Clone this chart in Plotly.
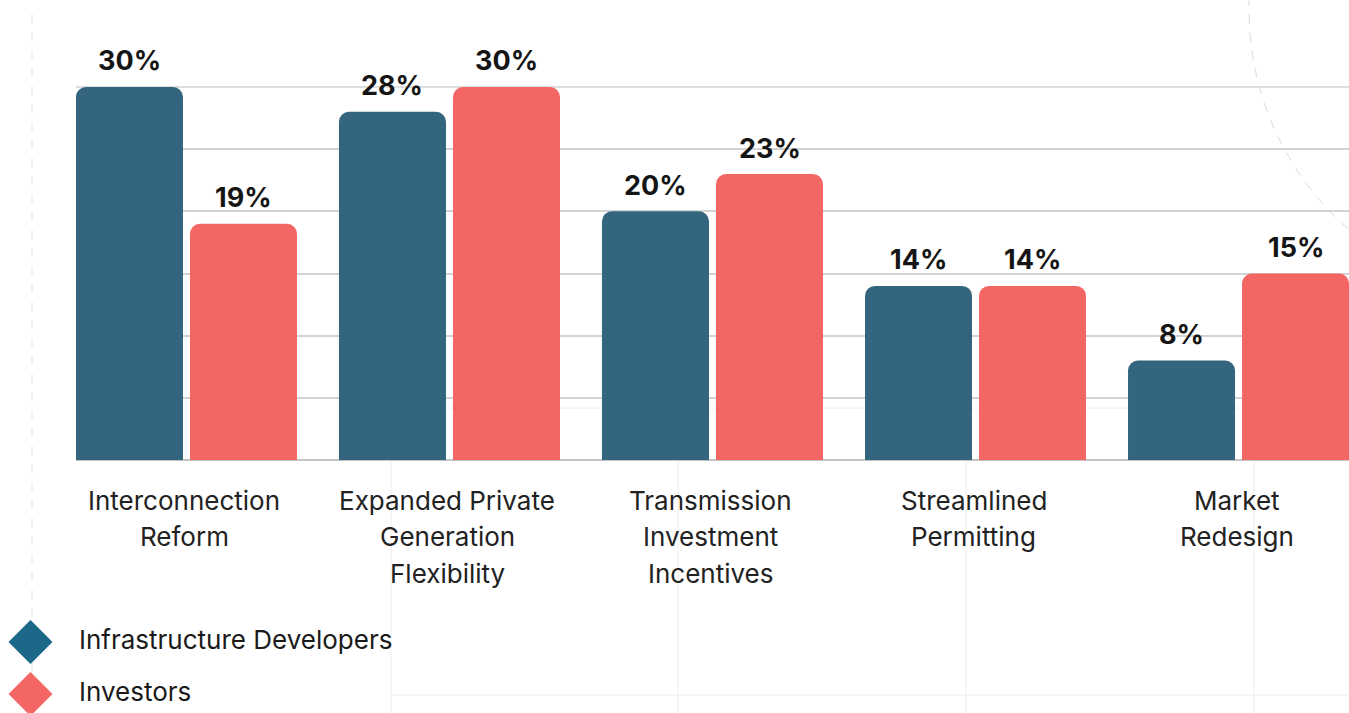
import plotly.graph_objects as go

# ---------------- data ----------------
categories = [
    "Interconnection Reform",
    "Expanded Private Generation Flexibility",
    "Transmission Investment Incentives",
    "Streamlined Permitting",
    "Market Redesign",
]
label_lines = [
    ["Interconnection", "Reform"],
    ["Expanded Private", "Generation", "Flexibility"],
    ["Transmission", "Investment", "Incentives"],
    ["Streamlined", "Permitting"],
    ["Market", "Redesign"],
]
developers = [30, 28, 20, 14, 8]
investors = [19, 30, 23, 14, 15]
series_names = ["Infrastructure Developers", "Investors"]
y_ticks = [0, 5, 10, 15, 20, 25, 30]

# ---------------- style ----------------
W, H = 1349, 713
DEV = "#34657F"
INV = "#F46664"
DEV_LEG = "#1C6888"
INV_LEG = "#F46664"
FONT = "Inter"
GRID = "#d3d3d3"
PLOT_TOP, PLOT_BOTTOM, PLOT_LEFT = 87, 460, 76


def px(x):
    return x / W


def py(y):
    return 1 - y / H


fig = go.Figure()
fig.add_trace(go.Bar(x=categories, y=developers, name=series_names[0],
                     marker=dict(color=DEV, line=dict(width=0))))
fig.add_trace(go.Bar(x=categories, y=investors, name=series_names[1],
                     marker=dict(color=INV, line=dict(width=0))))

annotations = []
# value labels
for series, shift in ((developers, -57), (investors, 57)):
    for cat, v in zip(categories, series):
        annotations.append(dict(
            x=cat, y=v, xref="x", yref="y", text=f"{v}%", showarrow=False,
            xshift=shift, yshift=26, yanchor="middle",
            font=dict(family=FONT, size=27, color="#151515", weight=700)))
# category labels (below baseline)
for cat, lines in zip(categories, label_lines):
    for j, line in enumerate(lines):
        annotations.append(dict(
            x=cat, y=py(PLOT_BOTTOM), xref="x", yref="paper", text=line, showarrow=False,
            xshift=-2, yshift=-(40 + 36.5 * j), yanchor="middle",
            font=dict(family=FONT, size=26, color="#222222")))

# legend
shapes = []
for name, col, cy in ((series_names[0], DEV_LEG, 642), (series_names[1], INV_LEG, 694)):
    shapes.append(dict(type="path", xref="paper", yref="paper",
                       xsizemode="pixel", ysizemode="pixel",
                       xanchor=px(30.5), yanchor=py(cy),
                       path="M -22 0 L 0 22 L 22 0 L 0 -22 Z",
                       fillcolor=col, line=dict(width=0), layer="above"))
    annotations.append(dict(x=px(77), y=py(cy - 3), xref="paper", yref="paper",
                            text=name, showarrow=False, xanchor="left", yanchor="middle",
                            font=dict(family=FONT, size=26, color="#1a1a1a")))

# top gridline (at the upper edge of the plot area, not clipped)
shapes.append(dict(type="line", xref="paper", yref="paper", x0=px(PLOT_LEFT), x1=1,
                   y0=py(PLOT_TOP), y1=py(PLOT_TOP), line=dict(color=GRID, width=1.5),
                   layer="below"))

# faint decorative background lines
faint = "#eeeeee"
shapes.append(dict(type="line", xref="paper", yref="paper", x0=px(32), x1=px(32),
                   y0=py(14), y1=py(713), line=dict(color="#e2e2e2", width=1, dash="dash"),
                   layer="below"))
for vx in (391, 678, 966, 1254):
    shapes.append(dict(type="line", xref="paper", yref="paper", x0=px(vx), x1=px(vx),
                       y0=py(408), y1=py(713), line=dict(color=faint, width=1), layer="below"))
for hy in (408, 695):
    shapes.append(dict(type="line", xref="paper", yref="paper", x0=px(391), x1=px(1349),
                       y0=py(hy), y1=py(hy), line=dict(color=faint, width=1), layer="below"))
# dashed arc top-right
shapes.append(dict(type="circle", xref="paper", yref="paper",
                   x0=px(1540 - 291), x1=px(1540 + 291), y0=py(10 + 291), y1=py(10 - 291),
                   line=dict(color="#d9d9d9", width=1, dash="dash"), layer="below"))

fig.update_layout(
    width=W, height=H,
    margin=dict(l=0, r=0, t=0, b=0),
    paper_bgcolor="white", plot_bgcolor="rgba(0,0,0,0)",
    barmode="group", bargap=0.133, bargroupgap=0.0614,
    barcornerradius=10,
    showlegend=False,
    annotations=annotations,
    shapes=shapes,
    xaxis=dict(domain=[px(PLOT_LEFT), 1], range=[-0.42, 4.42], showticklabels=False,
               showgrid=False, zeroline=False, showline=False, ticks=""),
    yaxis=dict(domain=[py(PLOT_BOTTOM), py(PLOT_TOP)], range=[0, 30], tickvals=y_ticks,
               showticklabels=False, showgrid=True, gridcolor=GRID, gridwidth=1.5,
               zeroline=True, zerolinecolor="#c4c4c4", zerolinewidth=2, showline=False,
               ticks=""),
    font=dict(family=FONT),
)

fig.write_html("out.html", config={"displayModeBar": False},
               post_script="document.body.style.margin='0';document.body.style.overflow='hidden';")
